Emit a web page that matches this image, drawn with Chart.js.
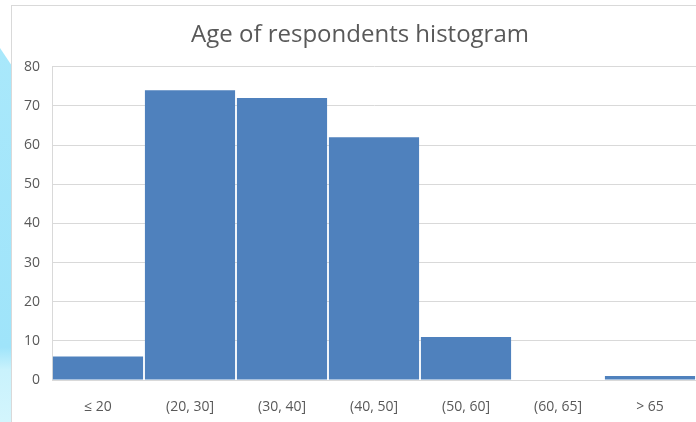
<!DOCTYPE html>
<html>
<head>
<meta charset="utf-8">
<script src="https://cdn.jsdelivr.net/npm/chart.js@4/dist/chart.umd.min.js"></script>
<style>
  html, body { margin: 0; padding: 0; width: 696px; height: 422px; overflow: hidden; background: #ffffff; }
  #strip {
    position: absolute; left: 0; top: 48px; width: 12px; height: 374px;
    background: linear-gradient(180deg, #a9e8fb 0%, #9fe4fa 80%, #c9f2fc 86%, #d3f5fd 100%);
    clip-path: polygon(0 0, 100% 18px, 100% 100%, 0 100%);
  }
  #panel {
    position: absolute; left: 11px; top: 5px; width: 700px; height: 440px;
    background: #ffffff; border: 1px solid #d9d9d9; box-sizing: border-box;
  }
  #wrap { position: absolute; left: 11px; top: 5px; width: 698px; height: 417px; }
</style>
</head>
<body>
<div id="strip"></div>
<div id="panel"></div>
<div id="wrap"><canvas id="chart"></canvas></div>
<script>
// Age bins and respondent counts
const ageBins = ['≤ 20', '(20, 30]', '(30, 40]', '(40, 50]', '(50, 60]', '(60, 65]', '> 65'];
const respondents = [6, 74, 72, 62, 11, 0, 1];
const yTicks = [0, 10, 20, 30, 40, 50, 60, 70, 80];

const textColor = '#595959';
const gridColor = '#d9d9d9';

// Centre the title on the whole panel rather than on the padded box
const centreTitle = {
  id: 'centreTitle',
  afterLayout(chart) {
    const t = chart.titleBlock;
    if (t) { t.left += 6.5; t.right += 6.5; }
  }
};

new Chart(document.getElementById('chart'), {
  type: 'bar',
  data: {
    labels: ageBins,
    datasets: [{
      label: 'Respondents',
      data: respondents,
      backgroundColor: '#4f81bd',
      barPercentage: 1,
      categoryPercentage: 0.98
    }]
  },
  plugins: [centreTitle],
  options: {
    responsive: true,
    maintainAspectRatio: false,
    animation: false,
    layout: { padding: { left: 0, right: 13, top: 0, bottom: 0 } },
    plugins: {
      legend: { display: false },
      tooltip: { enabled: false },
      title: {
        display: true,
        text: 'Age of respondents histogram',
        color: textColor,
        font: { family: 'Open Sans', size: 24, weight: 'normal' },
        padding: { top: 16, bottom: 17 }
      }
    },
    scales: {
      x: {
        grid: { display: false },
        border: { display: true, color: gridColor },
        ticks: {
          color: textColor,
          font: { family: 'Open Sans', size: 14 },
          padding: 11,
          maxRotation: 0
        },
        afterFit: (s) => { s.height = 42; }
      },
      y: {
        min: 0,
        max: 80,
        afterBuildTicks: (s) => { s.ticks = yTicks.map(v => ({ value: v })); },
        grid: { color: gridColor, drawTicks: false },
        border: { display: true, color: gridColor },
        ticks: {
          color: textColor,
          font: { family: 'Open Sans', size: 14 },
          padding: 12
        },
        afterFit: (s) => { s.width = 41; }
      }
    }
  }
});
</script>
</body>
</html>
